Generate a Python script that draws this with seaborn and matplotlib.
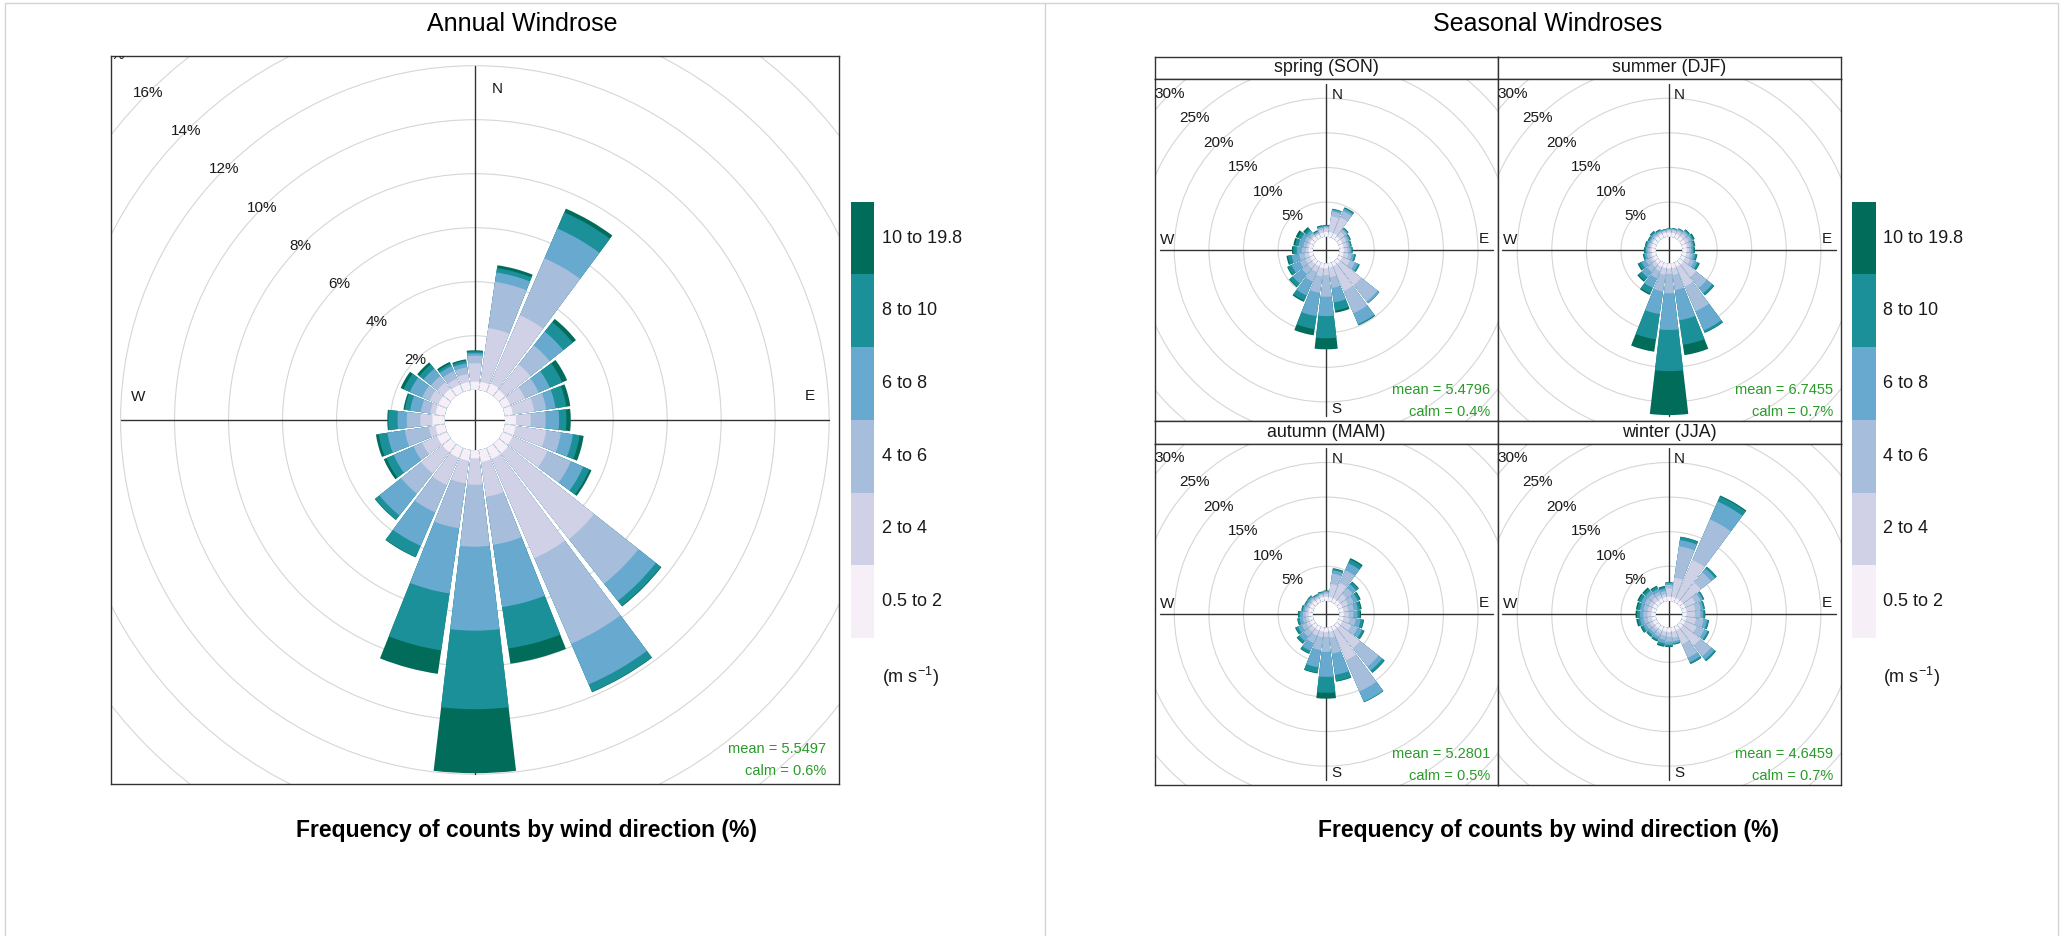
import numpy as np
import matplotlib
matplotlib.use("Agg")
import matplotlib.pyplot as plt
from matplotlib.patches import Wedge, Circle
from matplotlib.lines import Line2D
import seaborn as sns

# ---------------------------------------------------------------- data
SPEED_BINS = ["0.5 to 2", "2 to 4", "4 to 6", "6 to 8", "8 to 10", "10 to 19.8"]
DIRECTIONS = list(range(0, 360, 15))

# cumulative frequency (%) at the outer edge of each speed bin, one row per direction
annual_cum = [
    [0.30, 0.98, 1.26, 1.35, 1.42, 1.46],   # 0
    [0.30, 2.32, 4.05, 4.40, 4.56, 4.67],   # 15
    [0.35, 3.10, 5.40, 6.60, 7.25, 7.40],   # 30
    [0.30, 1.50, 2.40, 3.05, 3.50, 3.65],   # 45
    [0.30, 0.90, 1.45, 1.90, 2.40, 2.60],   # 60
    [0.30, 1.10, 1.55, 1.90, 2.30, 2.45],   # 75
    [0.40, 0.95, 1.50, 2.00, 2.27, 2.43],   # 90
    [0.40, 1.55, 2.10, 2.55, 2.80, 2.95],   # 105
    [0.40, 1.80, 2.75, 3.25, 3.50, 3.58],   # 120
    [0.45, 4.50, 6.60, 7.42, 7.65, 7.68],   # 135
    [0.45, 4.45, 7.90, 9.54, 9.84, 9.86],   # 150
    [0.45, 1.75, 3.55, 5.88, 7.43, 8.00],   # 165
    [0.30, 1.28, 3.57, 6.68, 9.59, 11.96],  # 180
    [0.40, 1.25, 2.93, 5.37, 7.50, 8.38],   # 195
    [0.40, 1.50, 2.60, 3.95, 4.40, 4.42],   # 210
    [0.40, 1.40, 2.35, 3.38, 3.58, 3.60],   # 225
    [0.40, 1.00, 1.35, 2.15, 2.45, 2.55],   # 240
    [0.35, 0.60, 1.50, 2.15, 2.48, 2.58],   # 255
    [0.45, 0.90, 1.40, 1.74, 2.08, 2.12],   # 270
    [0.35, 0.55, 0.90, 1.30, 1.50, 1.55],   # 285
    [0.35, 0.70, 1.00, 1.50, 1.75, 1.87],   # 300
    [0.35, 0.65, 0.95, 1.30, 1.50, 1.60],   # 315
    [0.30, 0.55, 0.85, 1.05, 1.15, 1.22],   # 330
    [0.30, 0.60, 0.85, 1.00, 1.10, 1.15],   # 345
]

spring_cum = [
    [0.7, 1.2, 1.4, 1.55, 1.65, 1.7],
    [0.7, 3.0, 3.7, 3.95, 4.05, 4.1],
    [0.7, 3.2, 4.2, 4.55, 4.7, 4.8],
    [0.6, 1.4, 1.8, 2.0, 2.15, 2.2],
    [0.6, 1.2, 1.5, 1.75, 1.9, 1.95],
    [0.6, 1.1, 1.4, 1.6, 1.75, 1.8],
    [0.6, 1.1, 1.45, 1.7, 1.85, 1.9],
    [0.6, 1.3, 1.8, 2.15, 2.35, 2.4],
    [0.6, 1.8, 2.6, 3.1, 3.3, 3.35],
    [0.6, 4.5, 7.5, 7.8, 7.85, 7.85],
    [0.6, 4.5, 8.0, 9.7, 9.85, 9.9],
    [0.6, 2.0, 3.6, 5.7, 6.9, 7.2],
    [0.7, 1.7, 4.8, 7.6, 10.8, 12.4],
    [0.7, 1.9, 4.3, 7.7, 9.6, 10.5],
    [0.6, 1.5, 3.0, 5.2, 6.0, 6.2],
    [0.6, 1.4, 2.5, 4.2, 4.8, 4.9],
    [0.6, 1.3, 2.2, 3.5, 4.05, 4.2],
    [0.6, 1.2, 2.0, 3.1, 3.65, 3.85],
    [0.6, 1.0, 1.6, 2.3, 2.8, 3.0],
    [0.6, 0.9, 1.4, 2.1, 2.6, 2.85],
    [0.6, 0.9, 1.4, 2.0, 2.5, 2.85],
    [0.6, 0.85, 1.2, 1.65, 2.05, 2.3],
    [0.5, 0.7, 0.85, 1.0, 1.1, 1.2],
    [0.6, 1.0, 1.3, 1.5, 1.62, 1.7],
]

summer_cum = [
    [0.6, 0.9, 1.05, 1.12, 1.18, 1.2],
    [0.6, 0.95, 1.1, 1.2, 1.27, 1.3],
    [0.6, 1.0, 1.25, 1.38, 1.45, 1.5],
    [0.6, 1.1, 1.45, 1.65, 1.8, 1.9],
    [0.6, 1.1, 1.5, 1.75, 1.95, 2.1],
    [0.6, 1.0, 1.35, 1.6, 1.8, 1.9],
    [0.6, 0.95, 1.25, 1.5, 1.7, 1.8],
    [0.6, 1.1, 1.5, 1.85, 2.1, 2.2],
    [0.6, 1.4, 2.0, 2.5, 2.8, 2.9],
    [0.7, 3.0, 5.0, 6.0, 6.35, 6.4],
    [0.7, 3.8, 7.7, 10.7, 11.05, 11.1],
    [0.7, 1.7, 3.9, 8.3, 11.9, 13.4],
    [0.7, 1.5, 4.3, 9.6, 15.55, 21.9],
    [0.7, 1.7, 4.1, 7.4, 11.1, 12.9],
    [0.7, 1.4, 2.5, 4.0, 4.9, 5.1],
    [0.6, 1.2, 2.1, 3.1, 3.7, 3.9],
    [0.6, 1.0, 1.7, 2.4, 2.85, 3.0],
    [0.6, 0.9, 1.3, 1.6, 1.8, 1.9],
    [0.6, 0.85, 1.15, 1.4, 1.6, 1.7],
    [0.6, 0.85, 1.1, 1.3, 1.5, 1.6],
    [0.6, 0.8, 1.0, 1.2, 1.38, 1.45],
    [0.6, 0.8, 1.05, 1.3, 1.5, 1.6],
    [0.6, 0.8, 1.0, 1.15, 1.3, 1.35],
    [0.6, 0.8, 0.95, 1.05, 1.1, 1.15],
]

autumn_cum = [
    [0.6, 1.0, 1.25, 1.4, 1.47, 1.5],
    [0.6, 2.5, 4.0, 4.5, 4.7, 4.8],
    [0.6, 3.0, 5.0, 6.1, 6.7, 6.9],
    [0.6, 1.8, 2.9, 3.6, 4.0, 4.1],
    [0.6, 1.5, 2.4, 3.0, 3.35, 3.5],
    [0.6, 1.3, 2.1, 2.7, 3.1, 3.25],
    [0.6, 1.3, 2.0, 2.6, 2.95, 3.1],
    [0.6, 1.5, 2.4, 3.1, 3.5, 3.6],
    [0.6, 2.0, 3.0, 3.7, 4.0, 4.1],
    [0.6, 4.3, 7.7, 8.4, 8.8, 8.85],
    [0.6, 5.3, 10.2, 11.8, 11.9, 11.9],
    [0.6, 1.5, 3.8, 6.9, 7.8, 7.9],
    [0.6, 1.3, 3.5, 7.1, 9.4, 10.25],
    [0.6, 1.4, 3.3, 5.8, 6.6, 6.7],
    [0.6, 1.4, 2.6, 3.8, 4.2, 4.3],
    [0.6, 1.3, 2.2, 3.0, 3.4, 3.5],
    [0.6, 1.2, 1.9, 2.5, 2.85, 2.95],
    [0.6, 1.0, 1.5, 1.95, 2.2, 2.3],
    [0.6, 1.0, 1.4, 1.8, 2.05, 2.15],
    [0.6, 0.9, 1.2, 1.45, 1.62, 1.7],
    [0.6, 0.85, 1.1, 1.3, 1.45, 1.5],
    [0.6, 0.85, 1.1, 1.35, 1.5, 1.55],
    [0.5, 0.75, 0.95, 1.1, 1.2, 1.25],
    [0.6, 0.9, 1.1, 1.25, 1.35, 1.4],
]

winter_cum = [
    [0.6, 1.8, 2.3, 2.55, 2.65, 2.7],
    [0.6, 3.4, 8.0, 8.9, 9.35, 9.4],
    [0.6, 6.6, 13.0, 15.8, 16.6, 16.75],
    [0.6, 3.9, 5.8, 6.5, 6.8, 6.85],
    [0.6, 2.2, 3.0, 3.35, 3.55, 3.6],
    [0.6, 1.9, 2.7, 3.05, 3.25, 3.3],
    [0.6, 1.8, 2.6, 3.0, 3.22, 3.3],
    [0.6, 2.0, 3.1, 3.6, 3.85, 3.9],
    [0.6, 2.4, 3.6, 4.1, 4.35, 4.4],
    [0.6, 3.8, 5.8, 6.4, 6.65, 6.7],
    [0.6, 2.8, 4.9, 5.6, 5.85, 5.9],
    [0.6, 1.5, 2.0, 2.3, 2.45, 2.5],
    [0.6, 1.3, 2.0, 2.45, 2.7, 2.8],
    [0.6, 1.2, 1.8, 2.3, 2.65, 2.8],
    [0.6, 1.1, 1.6, 2.0, 2.25, 2.35],
    [0.6, 1.0, 1.5, 1.9, 2.15, 2.25],
    [0.6, 1.1, 1.65, 2.1, 2.4, 2.55],
    [0.6, 1.2, 1.8, 2.3, 2.65, 2.85],
    [0.6, 1.2, 1.8, 2.3, 2.7, 2.9],
    [0.6, 1.2, 1.8, 2.3, 2.7, 2.9],
    [0.6, 1.2, 1.9, 2.45, 2.85, 3.05],
    [0.6, 1.2, 1.85, 2.4, 2.8, 3.0],
    [0.6, 1.1, 1.6, 2.05, 2.4, 2.55],
    [0.6, 1.0, 1.45, 1.8, 2.05, 2.2],
]

season_names = ["spring (SON)", "summer (DJF)", "autumn (MAM)", "winter (JJA)"]
season_cums = [spring_cum, summer_cum, autumn_cum, winter_cum]
season_means = [5.4796, 6.7455, 5.2801, 4.6459]
season_calms = [0.4, 0.7, 0.5, 0.7]
annual_mean = 5.5497
annual_calm = 0.6

# ---------------------------------------------------------------- style
sns.set_theme(style="white")
plt.rcParams["font.family"] = ["Liberation Sans", "DejaVu Sans"]
plt.rcParams["mathtext.fontset"] = "custom"
plt.rcParams["mathtext.rm"] = "Liberation Sans"
plt.rcParams["mathtext.it"] = "Liberation Sans:italic"

BIN_COLOURS = sns.color_palette(["#F6EFF7", "#D0D1E6", "#A6BDDB",
                                 "#67A9CF", "#1C9099", "#016C59"])
FRAME = "#333333"
GRID = "#d6d6d6"
STAT = "#2a9a2a"
TXT = "#1a1a1a"
HALF_WIDTH = 6.7     # half angular width of a petal (degrees)

W_PX, H_PX = 2065, 936
fig = plt.figure(figsize=(W_PX / 100, H_PX / 100), dpi=100)
fig.patch.set_facecolor("white")


def px_axes(x0, y0, x1, y1):
    """Axes placed by its pixel box (top-left origin)."""
    return fig.add_axes([x0 / W_PX, (H_PX - y1) / H_PX,
                         (x1 - x0) / W_PX, (y1 - y0) / H_PX])


def fig_text(x, y, s, **kw):
    fig.text(x / W_PX, 1 - y / H_PX, s, **kw)


def frame(ax):
    ax.set_xticks([])
    ax.set_yticks([])
    for sp in ax.spines.values():
        sp.set_visible(True)
        sp.set_color(FRAME)
        sp.set_linewidth(1.0)


def windrose(ax, cum, offset, px_per_pct, ring_step, ring_last,
             mean, calm, stat_x, mean_y, calm_y, fs=11):
    bb = ax.get_position()
    lx = bb.width * W_PX / 2 / px_per_pct
    ly = bb.height * H_PX / 2 / px_per_pct
    ax.set_xlim(-lx, lx)
    ax.set_ylim(-ly, ly)
    ax.set_facecolor("white")
    frame(ax)

    rings = np.arange(ring_step, ring_last + 1e-6, ring_step)
    for p in rings:
        ax.add_patch(Circle((0, 0), offset + p, fill=False, ec=GRID,
                            lw=0.8, zorder=1))
    ax.plot([-0.972 * lx, 0.972 * lx], [0, 0], color=FRAME, lw=1.0, zorder=2)
    ax.plot([0, 0], [-0.972 * ly, 0.972 * ly], color=FRAME, lw=1.0, zorder=2)

    for s, x, y in [("N", 0.062 * lx, 0.91 * ly), ("E", 0.92 * lx, 0.065 * ly),
                    ("S", 0.062 * lx, -0.93 * ly), ("W", -0.925 * lx, 0.062 * ly)]:
        ax.text(x, y, s, ha="center", va="center", fontsize=fs,
                color=TXT, zorder=3)

    # petals: outer bins first, each from the calm hole outward
    for d, row in zip(DIRECTIONS, cum):
        t1, t2 = 90 - d - HALF_WIDTH, 90 - d + HALF_WIDTH
        for k in range(len(row) - 1, -1, -1):
            ax.add_patch(Wedge((0, 0), offset + row[k], t1, t2, width=row[k],
                               fc=BIN_COLOURS[k], ec="none", lw=0, zorder=4))

    s45 = np.sqrt(0.5)
    for p in rings:
        r = offset + p
        ax.text(-r * s45, r * s45, f"{p:g}%", ha="center", va="center",
                fontsize=fs, color=TXT, zorder=6, clip_on=True)

    ax.text(stat_x, mean_y, f"mean = {mean:.4f}", transform=ax.transAxes,
            ha="right", va="center", fontsize=10.5, color=STAT, zorder=7)
    ax.text(stat_x, calm_y, f"calm = {calm:.1f}%", transform=ax.transAxes,
            ha="right", va="center", fontsize=10.5, color=STAT, zorder=7)


def colour_key(x0, x1, y0, y1, label_x):
    ax = px_axes(x0, y0, x1, y1)
    for i, c in enumerate(BIN_COLOURS):
        ax.bar(0, 1, bottom=i, width=1, color=c, edgecolor="none", linewidth=0)
    ax.set_xlim(-0.5, 0.5)
    ax.set_ylim(0, len(BIN_COLOURS))
    ax.set_axis_off()
    step = (y1 - y0) / len(SPEED_BINS)
    for i, lab in enumerate(SPEED_BINS):
        fig_text(label_x, y1 - (i + 0.5) * step, lab, ha="left", va="center",
                 fontsize=13, color=TXT)
    fig_text(label_x, 677, r"(m s$^{-1}$)", ha="left", va="center",
             fontsize=13, color=TXT)


# ---------------------------------------------------------------- annual rose
ax_a = px_axes(110.7, 56, 839, 784)
windrose(ax_a, annual_cum, offset=1.122, px_per_pct=27.0, ring_step=2,
         ring_last=18, mean=annual_mean, calm=annual_calm,
         stat_x=0.983, mean_y=0.048, calm_y=0.018)
colour_key(851, 874, 201.7, 638, 882)
fig_text(522, 24, "Annual Windrose", ha="center", va="center",
         fontsize=18, color="black")
fig_text(527, 831, "Frequency of counts by wind direction (%)", ha="center",
         va="center", fontsize=16.5, fontweight="bold", color="black")

# ---------------------------------------------------------------- seasonal roses
SX0, SW = 1154.7, 342.9
TOP, STRIP, PANEL = 56.7, 22.6, 341.6
for i, (name, cum, m, c) in enumerate(zip(season_names, season_cums,
                                          season_means, season_calms)):
    col, row = i % 2, i // 2
    x0 = SX0 + col * SW
    ys = TOP + row * (STRIP + PANEL)
    ax_s = px_axes(x0, ys, x0 + SW, ys + STRIP)
    frame(ax_s)
    ax_s.set_facecolor("white")
    ax_s.text(0.5, 0.5, name, ha="center", va="center", fontsize=12.9,
              color=TXT, transform=ax_s.transAxes)
    ax_p = px_axes(x0, ys + STRIP, x0 + SW, ys + STRIP + PANEL)
    windrose(ax_p, cum, offset=1.94, px_per_pct=6.92, ring_step=5,
             ring_last=35, mean=m, calm=c,
             stat_x=0.978, mean_y=0.09, calm_y=0.026)

colour_key(1851.7, 1875.7, 201.7, 638, 1883)
fig_text(1548, 24, "Seasonal Windroses", ha="center", va="center",
         fontsize=18, color="black")
fig_text(1549, 831, "Frequency of counts by wind direction (%)", ha="center",
         va="center", fontsize=16.5, fontweight="bold", color="black")

# ---------------------------------------------------------------- page borders
BORDER = "#d4d4d4"
for x in (5.3, 1044.8, 2058):
    fig.add_artist(Line2D([x / W_PX, x / W_PX], [0, 1 - 2.5 / H_PX],
                          color=BORDER, lw=1.0))
fig.add_artist(Line2D([5.3 / W_PX, 2058 / W_PX], [1 - 2.5 / H_PX, 1 - 2.5 / H_PX],
                      color=BORDER, lw=1.0))

fig.savefig("out.png", dpi=100, facecolor="white")
